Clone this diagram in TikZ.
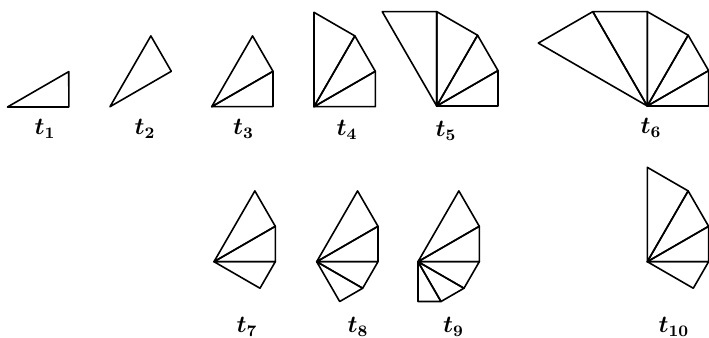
\documentclass[tikz,border=0pt]{standalone}
\tikzset{
  fanline/.style={line width=0.8pt, line join=round},
  fanlabel/.style={font=\fontsize{12}{14}\selectfont\boldmath},
}
% fan of 30-60-90 triangles round origin #1, triangle #2 to #3
\newcommand{\drawfan}[3]{%
  \foreach \k in {#2,...,#3}{
    \pgfmathsetmacro\blen{61.3*exp((\k-1)*ln(2/sqrt(3)))}
    \pgfmathsetmacro\hlen{\blen*2/sqrt(3)}
    \pgfmathsetmacro\bang{30*(\k-1)}
    \pgfmathsetmacro\hang{\bang+30}
    \draw[fanline] (#1) -- ([shift={(\bang:\blen)}]#1)
      -- ([shift={(\hang:\hlen)}]#1) -- cycle;
  }}
\begin{document}
\begin{tikzpicture}[x=0.5pt, y=0.5pt]
  \useasboundingbox (0,0) rectangle (709,338);
  % origins of the fans
  \coordinate (o1) at (7.5,231);
  \coordinate (o2) at (110,231.3);
  \coordinate (o3) at (211.7,231.3);
  \coordinate (o4) at (314,231.3);
  \coordinate (o5) at (436.7,232);
  \coordinate (o6) at (647.3,232);
  \coordinate (o7) at (214,76.3);
  \coordinate (o8) at (316.7,76.3);
  \coordinate (o9) at (418,76.3);
  \coordinate (o10) at (647.3,76.3);
  \drawfan{o1}{1}{1}
  \drawfan{o2}{2}{2}
  \drawfan{o3}{1}{2}
  \drawfan{o4}{1}{3}
  \drawfan{o5}{1}{4}
  \drawfan{o6}{1}{5}
  \drawfan{o7}{0}{2}
  \drawfan{o8}{-1}{2}
  \drawfan{o9}{-2}{2}
  \drawfan{o10}{0}{3}
  % labels
  \node[fanlabel] (l1) at (45,209) {$t_{1}$};
  \node[fanlabel] (l2) at (145,209) {$t_{2}$};
  \node[fanlabel] (l3) at (243.5,209) {$t_{3}$};
  \node[fanlabel] (l4) at (347,208) {$t_{4}$};
  \node[fanlabel] (l5) at (446,207) {$t_{5}$};
  \node[fanlabel] (l6) at (651,210) {$t_{6}$};
  \node[fanlabel] (l7) at (247,11) {$t_{7}$};
  \node[fanlabel] (l8) at (358,11) {$t_{8}$};
  \node[fanlabel] (l9) at (453.5,11) {$t_{9}$};
  \node[fanlabel] (l10) at (674,11) {$t_{10}$};
\end{tikzpicture}
\end{document}
